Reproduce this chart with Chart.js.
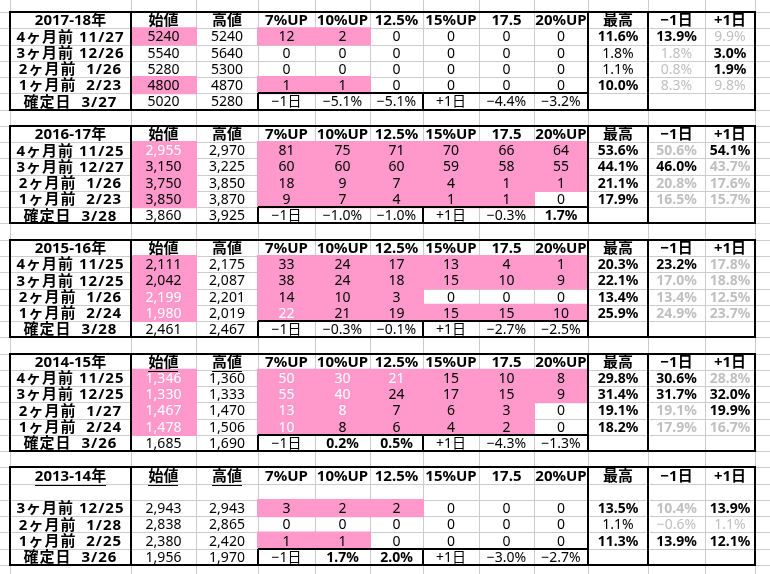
<!DOCTYPE html>
<html>
<head>
<meta charset="utf-8">
<script src="https://cdn.jsdelivr.net/npm/chart.js@4.4.0/dist/chart.umd.min.js"></script>
<style>
  body { margin: 0; background: #fff; }
</style>
</head>
<body>
<canvas id="sheet" width="770" height="574"></canvas>
<script>
// values, one block per season
const seasons = ["2017-18年", "2016-17年", "2015-16年", "2014-15年", "2013-14年"];
const colHeaders = ["始値", "高値", "7%UP", "10%UP", "12.5%", "15%UP", "17.5", "20%UP", "最高", "−1日", "+1日"];

const rowLabels = [
  ["4ヶ月前 11/27", "3ヶ月前 12/26", "2ヶ月前  1/26", "1ヶ月前  2/23", "確定日  3/27"],
  ["4ヶ月前 11/25", "3ヶ月前 12/27", "2ヶ月前  1/26", "1ヶ月前  2/23", "確定日  3/28"],
  ["4ヶ月前 11/25", "3ヶ月前 12/25", "2ヶ月前  1/26", "1ヶ月前  2/24", "確定日  3/28"],
  ["4ヶ月前 11/25", "3ヶ月前 12/25", "2ヶ月前  1/27", "1ヶ月前  2/24", "確定日  3/26"],
  ["", "3ヶ月前 12/25", "2ヶ月前  1/28", "1ヶ月前  2/25", "確定日  3/26"]
];

// last entry of each row is the 確定日 price
const openPrices = [
  [5240, 5540, 5280, 4800, 5020],
  [2955, 3150, 3750, 3850, 3860],
  [2111, 2042, 2199, 1980, 2461],
  [1346, 1330, 1467, 1478, 1685],
  [null, 2943, 2838, 2380, 1956]
];
const highPrices = [
  [5240, 5640, 5300, 4870, 5280],
  [2970, 3225, 3850, 3870, 3925],
  [2175, 2087, 2201, 2019, 2467],
  [1360, 1333, 1470, 1506, 1690],
  [null, 2943, 2865, 2420, 1970]
];

// counts for 7%UP, 10%UP, 12.5%, 15%UP, 17.5, 20%UP
const upCounts = [
  [[12, 2, 0, 0, 0, 0], [0, 0, 0, 0, 0, 0], [0, 0, 0, 0, 0, 0], [1, 1, 0, 0, 0, 0]],
  [[81, 75, 71, 70, 66, 64], [60, 60, 60, 59, 58, 55], [18, 9, 7, 4, 1, 1], [9, 7, 4, 1, 1, 0]],
  [[33, 24, 17, 13, 4, 1], [38, 24, 18, 15, 10, 9], [14, 10, 3, 0, 0, 0], [22, 21, 19, 15, 15, 10]],
  [[50, 30, 21, 15, 10, 8], [55, 40, 24, 17, 15, 9], [13, 8, 7, 6, 3, 0], [10, 8, 6, 4, 2, 0]],
  [null, [3, 2, 2, 0, 0, 0], [0, 0, 0, 0, 0, 0], [1, 1, 0, 0, 0, 0]]
];

const maxGain = [
  [11.6, 1.8, 1.1, 10.0],
  [53.6, 44.1, 21.1, 17.9],
  [20.3, 22.1, 13.4, 25.9],
  [29.8, 31.4, 19.1, 18.2],
  [null, 13.5, 1.1, 11.3]
];
const dayBefore = [
  [13.9, 1.8, 0.8, 8.3],
  [50.6, 46.0, 20.8, 16.5],
  [23.2, 17.0, 13.4, 24.9],
  [30.6, 31.7, 19.1, 17.9],
  [null, 10.4, -0.6, 13.9]
];
const dayAfter = [
  [9.9, 3.0, 1.9, 9.8],
  [54.1, 43.7, 17.6, 15.7],
  [17.8, 18.8, 12.5, 23.7],
  [28.8, 32.0, 19.9, 16.7],
  [null, 13.9, 1.1, 12.1]
];

// 確定日 row: the two figures after "−1日" and the two after "+1日"
const confirmBefore = [[-5.1, -5.1], [-1.0, -1.0], [-0.3, -0.1], [0.2, 0.5], [1.7, 2.0]];
const confirmAfter = [[-4.4, -3.2], [-0.3, 1.7], [-2.7, -2.5], [-4.3, -1.3], [-3.0, -2.7]];

const commaFormat = [false, true, true, true, true];

// layout and styling
const colWidths = [121, 65, 62, 57, 55, 53, 56, 55, 54, 60, 57, 50];
const PINK = "#ff99cc";
const GRAY = "#c0c0c0";
const GRID = "#cccccc";
const FONT = "'Noto Sans', 'Noto Sans CJK JP', sans-serif";
// [block, row, col] cells printed in white
const whiteText = [
  [1, 0, 1],
  [2, 2, 1], [2, 3, 1], [2, 3, 3],
  [3, 0, 1], [3, 1, 1], [3, 2, 1], [3, 3, 1],
  [3, 0, 3], [3, 1, 3], [3, 2, 3], [3, 3, 3],
  [3, 0, 4], [3, 1, 4], [3, 2, 4], [3, 0, 5]
];
// [block, col] header cells underlined
const underlined = [[3, 1], [3, 2], [4, 0], [4, 1], [4, 2]];

// sheet rows: header, 4 data rows, 確定日, blank row between blocks
const rows = [];
seasons.forEach((s, b) => {
  rows.push({ type: "header", b });
  for (let i = 0; i < 4; i++) rows.push({ type: "data", b, i });
  rows.push({ type: "confirm", b });
  if (b < seasons.length - 1) rows.push({ type: "gap", b });
});

function fmtPrice(v, b) {
  if (v == null) return "";
  return commaFormat[b] ? v.toLocaleString("en-US") : String(v);
}
function fmtPct(v) {
  return (v < 0 ? "−" : "") + Math.abs(v).toFixed(1) + "%";
}

function cellInfo(r, c) {
  const out = { text: "", bold: false, color: "#000", fill: null, under: false };
  if (r.type === "gap") return out;
  const b = r.b;
  if (r.type === "header") {
    out.text = c === 0 ? seasons[b] : colHeaders[c - 1];
    out.bold = true;
    out.under = underlined.some(u => u[0] === b && u[1] === c);
    return out;
  }
  if (r.type === "confirm") {
    let v;
    if (c === 0) { out.text = rowLabels[b][4]; out.bold = true; }
    else if (c === 1) out.text = fmtPrice(openPrices[b][4], b);
    else if (c === 2) out.text = fmtPrice(highPrices[b][4], b);
    else if (c === 3) out.text = "−1日";
    else if (c === 4 || c === 5) { v = confirmBefore[b][c - 4]; out.text = fmtPct(v); out.bold = v > 0; }
    else if (c === 6) out.text = "+1日";
    else if (c === 7 || c === 8) { v = confirmAfter[b][c - 7]; out.text = fmtPct(v); out.bold = v > 0; }
    return out;
  }
  const i = r.i;
  if (c === 0) { out.text = rowLabels[b][i]; out.bold = true; return out; }
  if (openPrices[b][i] == null) return out;
  if (c === 1) {
    out.text = fmtPrice(openPrices[b][i], b);
    if (openPrices[b][i] < highPrices[b][4]) out.fill = PINK;
  } else if (c === 2) {
    out.text = fmtPrice(highPrices[b][i], b);
  } else if (c <= 8) {
    const n = upCounts[b][i][c - 3];
    out.text = String(n);
    if (n > 0) out.fill = PINK;
  } else if (c === 9) {
    const v = maxGain[b][i];
    out.text = fmtPct(v);
    out.bold = v >= 10;
  } else {
    const v = (c === 10 ? dayBefore : dayAfter)[b][i];
    const m = maxGain[b][i];
    out.text = fmtPct(v);
    out.bold = v >= 10 || v > m;
    out.color = v > m ? "#000" : GRAY;
  }
  if (whiteText.some(w => w[0] === b && w[1] === i && w[2] === c)) out.color = "#fff";
  return out;
}

const cellGrid = rows.map(r => colWidths.map((w, c) => cellInfo(r, c)));
const totalWidth = colWidths.reduce((a, w) => a + w, 0);

const datasets = colWidths.map((w, c) => ({
  label: c === 0 ? "年" : colHeaders[c - 1],
  data: rows.map(() => w),
  backgroundColor: rows.map((r, k) => cellGrid[k][c].fill || "rgba(0,0,0,0)"),
  borderWidth: 0,
  inflateAmount: 1,
  barPercentage: 1,
  categoryPercentage: 1
}));

function colEdges(x) {
  const xs = [x.getPixelForValue(0)];
  let acc = 0;
  colWidths.forEach(w => { acc += w; xs.push(Math.round(x.getPixelForValue(acc))); });
  xs[0] = Math.round(xs[0]);
  return xs;
}
function rowEdge(y, k) {
  const h = y.getPixelForValue(1) - y.getPixelForValue(0);
  return Math.round(y.getPixelForValue(0) + (k - 0.5) * h);
}

const sheetPlugin = {
  id: "sheet",
  beforeDatasetsDraw(chart) {
    const { ctx, scales: { x, y } } = chart;
    const xs = colEdges(x);
    ctx.save();
    ctx.strokeStyle = GRID;
    ctx.lineWidth = 1;
    ctx.beginPath();
    xs.forEach(px => { ctx.moveTo(px + 0.5, 0); ctx.lineTo(px + 0.5, chart.height); });
    for (let k = -1; k <= rows.length + 1; k++) {
      const py = rowEdge(y, k);
      if (py < 0 || py > chart.height) continue;
      ctx.moveTo(0, py + 0.5); ctx.lineTo(chart.width, py + 0.5);
    }
    ctx.stroke();
    ctx.restore();
  },
  afterDatasetsDraw(chart) {
    const { ctx, scales: { x, y } } = chart;
    const xs = colEdges(x);

    // cell text
    ctx.save();
    ctx.textAlign = "center";
    ctx.textBaseline = "middle";
    rows.forEach((r, k) => {
      const cy = y.getPixelForValue(k) + 1;
      cellGrid[k].forEach((cell, c) => {
        if (!cell.text) return;
        const cx = (xs[c] + xs[c + 1]) / 2;
        const big = r.type === "header" || c === 0;
        ctx.font = (cell.bold ? "bold " : "") + (big ? "15px " : "14px ") + FONT;
        ctx.letterSpacing = c === 0 && r.type !== "header" ? "1px" : "0px";
        ctx.fillStyle = cell.color;
        ctx.fillText(cell.text, cx, cy);
        if (cell.under) {
          const tw = ctx.measureText(cell.text).width;
          ctx.fillRect(Math.round(cx - tw / 2), Math.round(cy + 8), Math.round(tw), 1);
        }
      });
    });
    ctx.restore();

    // thick block borders
    ctx.save();
    ctx.strokeStyle = "#000";
    ctx.lineWidth = 2;
    ctx.beginPath();
    rows.forEach((r, k) => {
      if (r.type !== "header") return;
      const ck = k + 5;
      const top = rowEdge(y, k);
      const bot = rowEdge(y, ck + 1);
      const cTop = rowEdge(y, ck);
      ctx.rect(xs[0], top, xs[12] - xs[0], bot - top);
      [1, 9, 10].forEach(c => { ctx.moveTo(xs[c], top); ctx.lineTo(xs[c], bot); });
      ctx.moveTo(xs[3], cTop); ctx.lineTo(xs[9], cTop);
      [3, 6].forEach(c => { ctx.moveTo(xs[c], cTop); ctx.lineTo(xs[c], bot); });
    });
    ctx.stroke();
    ctx.restore();
  }
};

new Chart(document.getElementById("sheet"), {
  type: "bar",
  data: {
    labels: rows.map(r => r.type === "gap" ? "" : seasons[r.b] + " " + r.type + (r.i != null ? r.i : "")),
    datasets
  },
  options: {
    indexAxis: "y",
    responsive: false,
    animation: false,
    devicePixelRatio: 1,
    layout: { padding: { left: 10, right: 15, top: 12, bottom: 9 } },
    scales: {
      x: { type: "linear", stacked: true, min: 0, max: totalWidth, display: false },
      y: { stacked: true, display: false }
    },
    plugins: { legend: { display: false }, tooltip: { enabled: false } }
  },
  plugins: [sheetPlugin]
});
</script>
</body>
</html>
